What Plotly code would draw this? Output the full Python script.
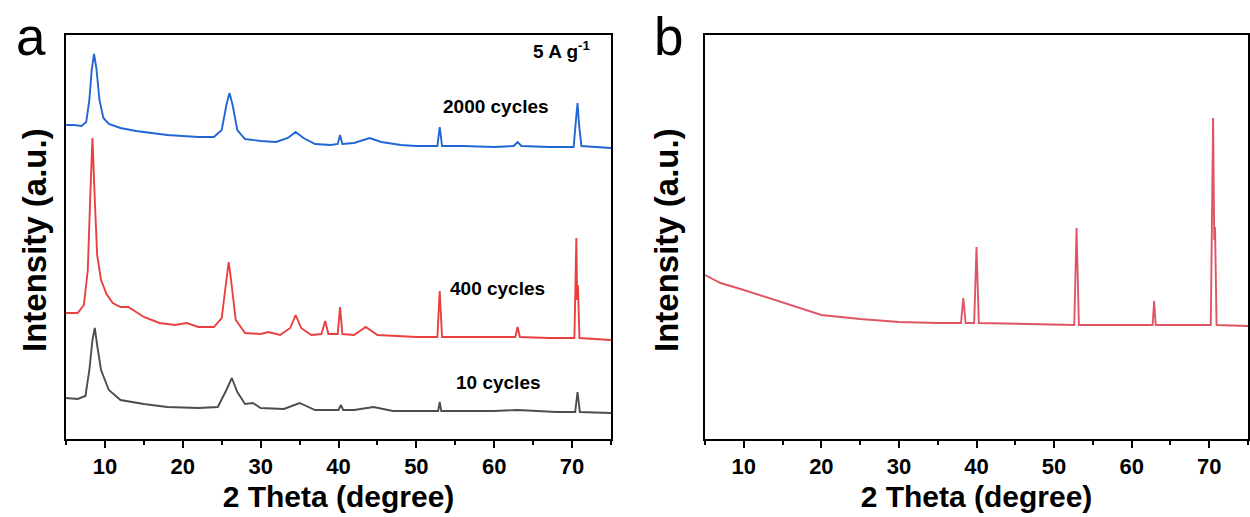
import plotly.graph_objects as go

# panel a: XRD after cycling at 5 A g-1 (intensity in arbitrary units)
x_2000 = [5.0, 6.0, 7.0, 7.6, 8.0, 8.3, 8.6, 8.9, 9.3, 9.8, 10.5, 12.0, 14.0, 16.0, 18.0, 20.0,
          22.0, 24.0, 25.0, 25.6, 26.0, 26.4, 27.0, 28.0, 30.0, 32.0, 33.5, 34.5, 35.5, 37.0,
          39.0, 39.9, 40.2, 40.5, 42.0, 44.0, 45.5, 48.0, 50.0, 52.7, 53.0, 53.3, 56.0, 60.0,
          62.5, 63.0, 63.5, 67.0, 70.2, 70.5, 70.7, 70.9, 71.2, 75.0]
y_2000 = [314, 314, 313, 317, 339, 369, 385, 371, 339, 321, 315, 311, 308, 306, 304, 303,
          302, 302, 309, 334, 346, 334, 309, 300, 298, 297, 301, 307, 301, 295,
          294, 295, 304, 295, 296, 301, 297, 294, 293, 293, 312, 293, 293, 292,
          293, 297, 293, 292, 292, 319, 336, 314, 293, 291]

x_400 = [5.0, 6.5, 7.3, 7.8, 8.1, 8.4, 8.7, 9.0, 9.5, 10.2, 11.0, 12.0, 13.0, 14.0, 15.0, 17.0,
         19.0, 20.5, 22.0, 24.0, 25.0, 25.6, 25.9, 26.2, 26.8, 28.0, 30.0, 31.0, 32.5, 33.8,
         34.5, 35.2, 36.5, 37.8, 38.3, 38.7, 39.9, 40.2, 40.5, 42.0, 43.5, 45.0, 48.0, 50.0,
         52.7, 53.0, 53.3, 57.0, 60.0, 62.7, 63.0, 63.3, 67.0, 70.3, 70.55, 70.65, 70.75,
         70.95, 75.0]
y_400 = [126, 126, 134, 169, 239, 301, 239, 184, 159, 145, 136, 132, 132, 127, 122, 116,
         114, 116, 112, 112, 121, 159, 177, 159, 119, 106, 105, 107, 104, 111,
         124, 111, 104, 105, 118, 105, 105, 132, 105, 104, 112, 104, 103, 102,
         102, 148, 102, 102, 102, 102, 112, 102, 101, 101, 201, 139, 154,
         101, 99]

x_10 = [5.0, 6.5, 7.5, 8.0, 8.4, 8.7, 9.0, 9.5, 10.5, 12.0, 15.0, 18.0, 22.0, 24.5, 25.6, 26.3,
        27.0, 28.0, 29.0, 30.0, 33.0, 35.0, 37.0, 40.0, 40.3, 40.6, 42.0, 44.5, 47.0, 50.0,
        52.8, 53.0, 53.2, 60.0, 63.0, 68.0, 70.4, 70.7, 71.0, 75.0]
y_10 = [41, 40, 43, 69, 99, 111, 94, 69, 49, 39, 35, 32, 31, 32, 49, 61,
        47, 35, 36, 31, 30, 36, 29, 29, 34, 29, 29, 32, 28, 28,
        28, 37, 28, 28, 29, 27, 27, 47, 27, 26]

# panel b
x_b = [5.0, 7.0, 10.0, 12.0, 15.0, 18.0, 20.0, 25.0, 30.0, 35.0, 38.0, 38.3, 38.6, 39.7, 40.0,
       40.3, 45.0, 50.0, 52.6, 52.9, 53.2, 55.0, 60.0, 62.7, 62.9, 63.1, 65.0, 70.2, 70.5,
       70.65, 70.75, 70.95, 75.0]
y_b = [164, 156, 149, 144, 136, 129, 124, 120, 117, 116, 116, 141, 116, 116, 192,
       116, 115, 114, 114, 211, 114, 114, 114, 114, 138, 114, 114, 114, 321,
       199, 212, 114, 113]

x_ticks = [10, 20, 30, 40, 50, 60, 70]
W, H = 1250, 517
FONT = "Liberation Sans, Arial, sans-serif"


def px_x(p):
    return p / W


def px_y(p):
    return 1 - p / H


fig = go.Figure()
fig.add_trace(go.Scatter(x=x_10, y=y_10, mode="lines", line=dict(color="#4d4d4d", width=1.9),
                         xaxis="x", yaxis="y"))
fig.add_trace(go.Scatter(x=x_400, y=y_400, mode="lines", line=dict(color="#ea3f3f", width=1.9),
                         xaxis="x", yaxis="y"))
fig.add_trace(go.Scatter(x=x_2000, y=y_2000, mode="lines", line=dict(color="#2166d4", width=1.9),
                         xaxis="x", yaxis="y"))
fig.add_trace(go.Scatter(x=x_b, y=y_b, mode="lines", line=dict(color="#e05566", width=1.9),
                         xaxis="x2", yaxis="y2"))

xax = dict(range=[5, 75], tickvals=x_ticks, ticks="outside", ticklen=7, tickwidth=2,
           tickcolor="black", showline=True, linecolor="black", linewidth=2, mirror=True,
           showgrid=False, zeroline=False,
           tickfont=dict(family=FONT, size=22, color="black", weight="bold"),
           minor=dict(dtick=5, tick0=5, ticks="outside", ticklen=4, tickwidth=2, tickcolor="black"),
           title=dict(text="2 Theta (degree)", standoff=8,
                      font=dict(family=FONT, size=30, color="black", weight="bold")))
yax = dict(range=[0, 404], showticklabels=False, ticks="", showline=True, linecolor="black",
           linewidth=2, mirror=True, showgrid=False, zeroline=False)

fig.update_layout(
    width=W, height=H, margin=dict(l=0, r=0, t=0, b=0),
    paper_bgcolor="white", plot_bgcolor="white", showlegend=False,
    xaxis=dict(xax, domain=[px_x(66), px_x(611)], anchor="y"),
    yaxis=dict(yax, domain=[px_y(439), px_y(35)], anchor="x"),
    xaxis2=dict(xax, domain=[px_x(705), px_x(1248)], anchor="y2"),
    yaxis2=dict(yax, domain=[px_y(439), px_y(35)], anchor="x2"),
)

bold = dict(family=FONT, color="black", weight="bold")
for x, y, txt in [(60.2, 332, "2000 cycles"), (60.4, 151, "400 cycles"), (60.5, 57, "10 cycles"),
                  (68.7, 389, "5 A g<sup>-1</sup>")]:
    fig.add_annotation(x=x, y=y, xref="x", yref="y", text=txt, showarrow=False,
                       xanchor="center", yanchor="middle", font=dict(bold, size=19))

for xp in [35, 667]:
    fig.add_annotation(x=px_x(xp), y=px_y(240), xref="paper", yref="paper",
                       text="Intensity (a.u.)", textangle=-90, showarrow=False,
                       xanchor="center", yanchor="middle", font=dict(bold, size=33))

for xp, letter in [(31, "a"), (668, "b")]:
    fig.add_annotation(x=px_x(xp), y=px_y(5), xref="paper", yref="paper", text=letter,
                       showarrow=False, xanchor="center", yanchor="top",
                       font=dict(family=FONT, size=53, color="black"))

fig.write_html("out.html", post_script="document.body.style.margin='0';",
               config={"displayModeBar": False})
